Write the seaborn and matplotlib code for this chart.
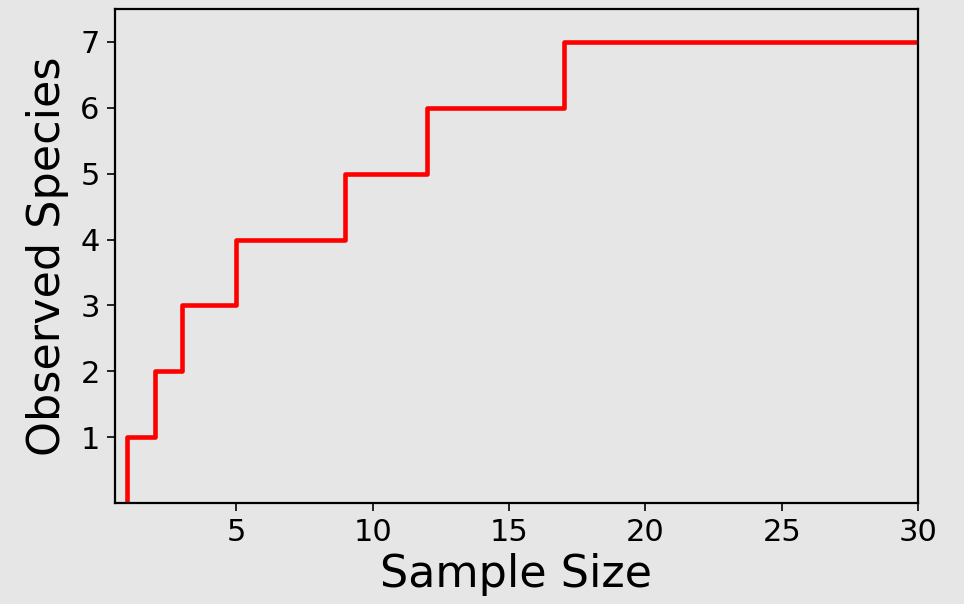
import matplotlib
matplotlib.use("Agg")
import matplotlib.pyplot as plt
import seaborn as sns
import pandas as pd

# rarefaction-style curve: species seen vs number of samples
sample_size = [1, 1, 2, 3, 5, 9, 12, 17, 30]
observed_species = [0, 1, 2, 3, 4, 5, 6, 7, 7]

df = pd.DataFrame({'Sample Size': sample_size, 'Observed Species': observed_species})

bg = '#e6e6e6'
sns.set_style('ticks', {'axes.facecolor': bg, 'figure.facecolor': bg,
                        'axes.edgecolor': 'black', 'text.color': 'black',
                        'axes.labelcolor': 'black'})
plt.rcParams['font.family'] = ['DejaVu Sans']

fig = plt.figure(figsize=(9.64, 6.04), dpi=100)
ax = fig.add_axes([115 / 964, 1 - 503 / 604, (918 - 115) / 964, (503 - 9) / 604])

sns.lineplot(data=df, x='Sample Size', y='Observed Species', ax=ax,
             estimator=None, sort=False, drawstyle='steps-post',
             color='red', linewidth=3.3)

ax.set_xlim(0.55, 30)
ax.set_ylim(0, 7.5)
ax.set_xticks([5, 10, 15, 20, 25, 30])
ax.set_yticks([1, 2, 3, 4, 5, 6, 7])
ax.tick_params(labelsize=22, length=6, width=1.2, colors='black', pad=5)
for s in ax.spines.values():
    s.set_linewidth(1.6)
ax.set_xlabel('Sample Size', fontsize=32, labelpad=4)
ax.set_ylabel('Observed Species', fontsize=32, labelpad=8)

fig.savefig('out.png', dpi=100, facecolor=bg)
